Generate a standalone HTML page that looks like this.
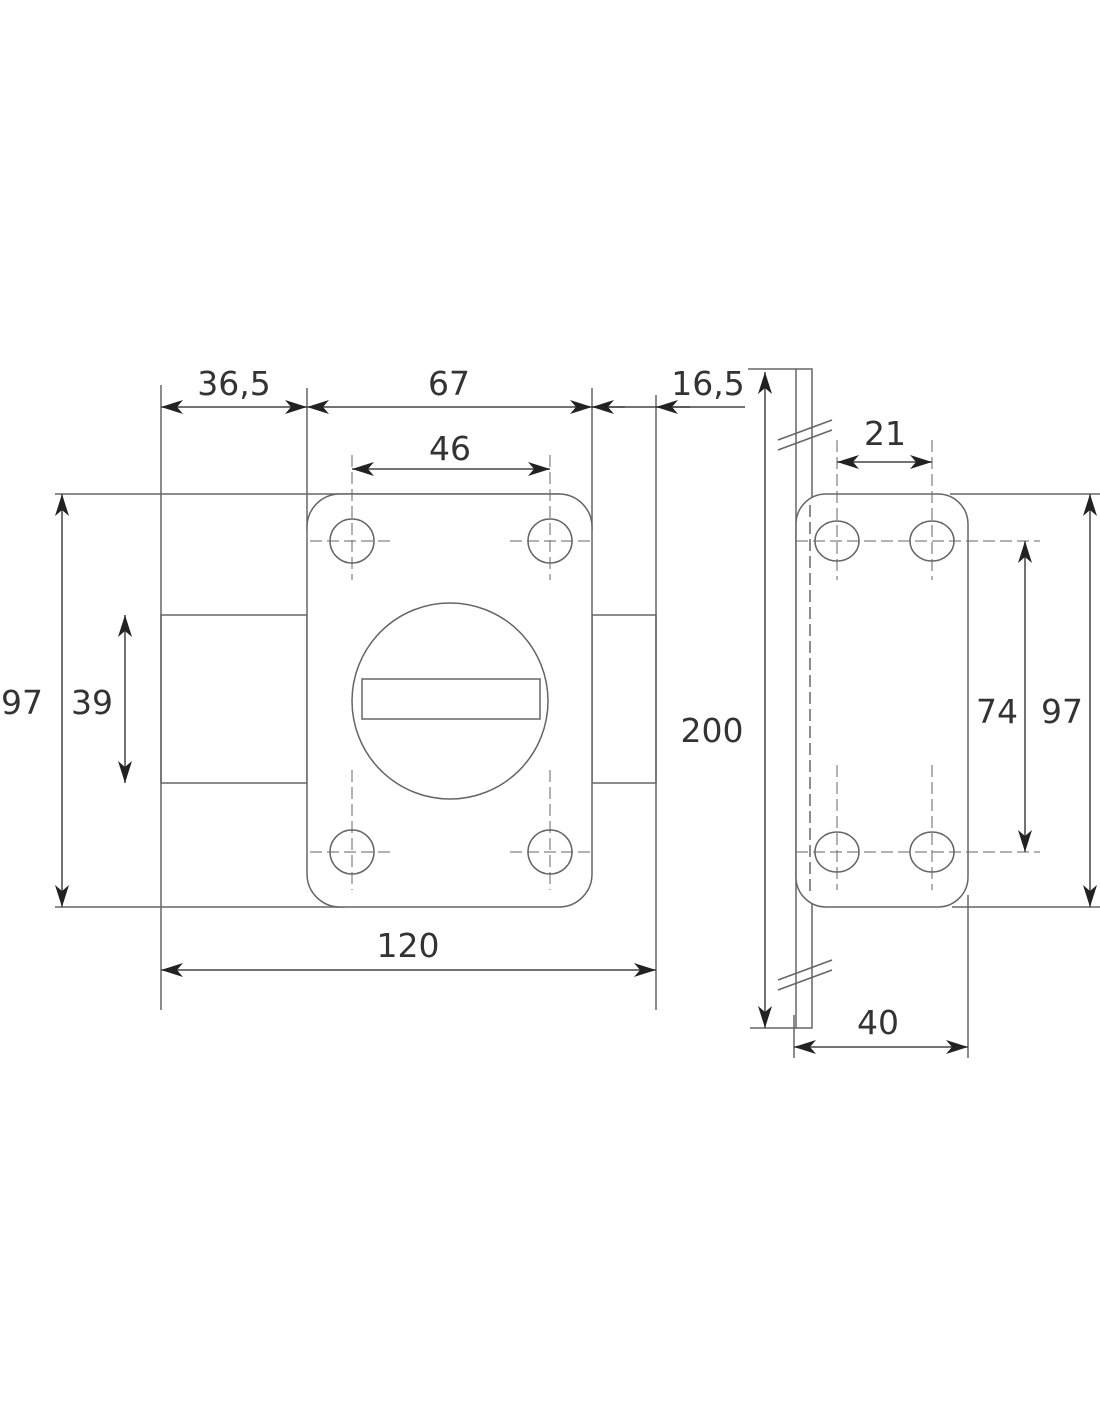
<!DOCTYPE html>
<html><head><style>body{margin:0;background:#fff}svg{display:block}text{font-family:"DejaVu Sans","Liberation Sans",sans-serif;font-size:33px;fill:#333}</style></head><body>
<svg width="1100" height="1422" viewBox="0 0 1100 1422" xmlns="http://www.w3.org/2000/svg">
<defs>
<marker id="a" viewBox="0 0 22 14" refX="22" refY="7" markerWidth="22" markerHeight="14" markerUnits="userSpaceOnUse" orient="auto-start-reverse"><path d="M0,0 L22,7 L0,14 L6,7 Z" fill="#222"/></marker>
</defs>
<g stroke="#666" stroke-width="1.5" fill="none">
<line x1="161" y1="385" x2="161" y2="1010"/>
<line x1="307" y1="388" x2="307" y2="530"/>
<line x1="592" y1="388" x2="592" y2="530"/>
<line x1="656" y1="395" x2="656" y2="1010"/>
<line x1="55" y1="494" x2="560" y2="494"/>
<line x1="55" y1="907" x2="345" y2="907"/>
<rect x="161" y="615" width="146" height="168"/>
<rect x="592" y="615" width="64" height="168"/>
<rect x="307" y="494" width="285" height="413" rx="33" fill="#fff"/>
<circle cx="450" cy="701" r="98"/>
<rect x="362" y="679" width="178" height="40"/>
<g>
<circle cx="352" cy="541" r="22"/><circle cx="550" cy="541" r="22"/>
<circle cx="352" cy="852" r="22"/><circle cx="550" cy="852" r="22"/>
</g>
<g stroke-dasharray="12,5" stroke-width="1">
<line x1="310" y1="541" x2="395" y2="541"/><line x1="510" y1="541" x2="592" y2="541"/>
<line x1="310" y1="852" x2="395" y2="852"/><line x1="510" y1="852" x2="592" y2="852"/>
<line x1="352" y1="455" x2="352" y2="580"/><line x1="550" y1="455" x2="550" y2="580"/>
<line x1="352" y1="770" x2="352" y2="890"/><line x1="550" y1="770" x2="550" y2="890"/>
</g>
<rect x="796" y="369" width="16" height="659"/>
<line x1="748" y1="369" x2="796" y2="369"/>
<line x1="750" y1="1028" x2="796" y2="1028"/>
<line x1="778" y1="440" x2="832" y2="420"/><line x1="778" y1="450" x2="832" y2="430"/>
<line x1="778" y1="980" x2="832" y2="960"/><line x1="778" y1="990" x2="832" y2="970"/>
<rect x="796" y="494" width="172" height="413" rx="30" fill="#fff"/>
<line x1="810" y1="505" x2="810" y2="895" stroke-dasharray="12,5"/>
<ellipse cx="837" cy="541" rx="22" ry="20"/><ellipse cx="932" cy="541" rx="22" ry="20"/>
<ellipse cx="837" cy="852" rx="22" ry="20"/><ellipse cx="932" cy="852" rx="22" ry="20"/>
<g stroke-dasharray="12,5" stroke-width="1">
<line x1="796" y1="541" x2="1040" y2="541"/><line x1="796" y1="852" x2="1040" y2="852"/>
<line x1="837" y1="440" x2="837" y2="580"/><line x1="932" y1="440" x2="932" y2="580"/>
<line x1="837" y1="765" x2="837" y2="890"/><line x1="932" y1="765" x2="932" y2="890"/>
</g>
<line x1="950" y1="494" x2="1100" y2="494"/>
<line x1="952" y1="907" x2="1100" y2="907"/>
<line x1="968" y1="895" x2="968" y2="1058"/>
<line x1="794" y1="1015" x2="794" y2="1058"/>
</g>
<g stroke="#444" stroke-width="1.5">
<line x1="161" y1="407" x2="307" y2="407" marker-start="url(#a)" marker-end="url(#a)"/>
<line x1="307" y1="407" x2="592" y2="407" marker-start="url(#a)" marker-end="url(#a)"/>
<line x1="592" y1="407" x2="745" y2="407"/>
<line x1="625" y1="407" x2="592" y2="407" marker-end="url(#a)"/>
<line x1="690" y1="407" x2="656" y2="407" marker-end="url(#a)"/>
<line x1="352" y1="469" x2="550" y2="469" marker-start="url(#a)" marker-end="url(#a)"/>
<line x1="62" y1="494" x2="62" y2="907" marker-start="url(#a)" marker-end="url(#a)"/>
<line x1="125" y1="615" x2="125" y2="783" marker-start="url(#a)" marker-end="url(#a)"/>
<line x1="161" y1="970" x2="656" y2="970" marker-start="url(#a)" marker-end="url(#a)"/>
<line x1="765" y1="372" x2="765" y2="1028" marker-start="url(#a)" marker-end="url(#a)"/>
<line x1="837" y1="462" x2="932" y2="462" marker-start="url(#a)" marker-end="url(#a)"/>
<line x1="1025" y1="541" x2="1025" y2="852" marker-start="url(#a)" marker-end="url(#a)"/>
<line x1="1090" y1="494" x2="1090" y2="907" marker-start="url(#a)" marker-end="url(#a)"/>
<line x1="794" y1="1047" x2="968" y2="1047" marker-start="url(#a)" marker-end="url(#a)"/>
</g>
<text x="234" y="395" text-anchor="middle">36,5</text>
<text x="449" y="395" text-anchor="middle">67</text>
<text x="708" y="395" text-anchor="middle">16,5</text>
<text x="450" y="460" text-anchor="middle">46</text>
<text x="22" y="714" text-anchor="middle">97</text>
<text x="92" y="714" text-anchor="middle">39</text>
<text x="408" y="957" text-anchor="middle">120</text>
<text x="712" y="742" text-anchor="middle">200</text>
<text x="885" y="445" text-anchor="middle">21</text>
<text x="997" y="723" text-anchor="middle">74</text>
<text x="1062" y="723" text-anchor="middle">97</text>
<text x="878" y="1034" text-anchor="middle">40</text>
</svg>
</body></html>
